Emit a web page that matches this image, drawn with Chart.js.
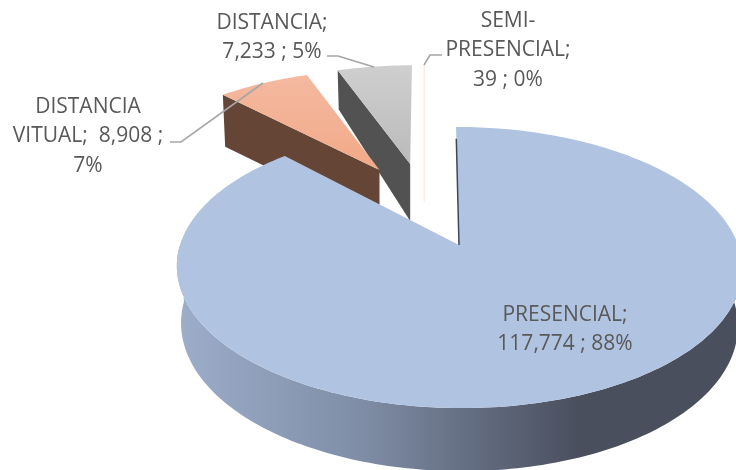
<!DOCTYPE html>
<html>
<head>
<meta charset="utf-8">
<script src="https://cdn.jsdelivr.net/npm/chart.js@4/dist/chart.umd.js"></script>
<style>
  html, body { margin: 0; padding: 0; background: #fff; overflow: hidden; }
  #wrap { width: 736px; height: 470px; }
</style>
</head>
<body>
<div id="wrap"><canvas id="chart" width="736" height="470"></canvas></div>
<script>
const categories = ['PRESENCIAL', 'DISTANCIA VITUAL', 'DISTANCIA', 'SEMI-PRESENCIAL']
const values = [117774, 8908, 7233, 39]
const topColors = ['#B0C4E2', '#F3AE8E', '#C6C6C6', '#F6F0DC']
const wallColors = ['#4A4F5E', '#654636', '#525252', '#F9F6EC']

// label text, one list per slice, broken the same way as the picture
const presencialLines = ['PRESENCIAL;', '117,774 ; 88%']
const vitualLines = ['DISTANCIA', 'VITUAL;  8,908 ;', '7%']
const distanciaLines = ['DISTANCIA;', '7,233 ; 5%']
const semiLines = ['SEMI-', 'PRESENCIAL;', '39 ; 0%']

// tilted view of the pie, fitted to the picture
const view = { x: 459, y: 245, fx: 279, fy: 137, persp: 0.16 }
const depthBase = [56, 52, 57, 38]
const depthSlope = [7, 0, 19, 0]
const leans = [3, 7, 3.5, 3]
const nudgeX = [0, -5, -4, -4.5]
const nudgeY = [0, -2, -3, -3]

function project(X, Y) {
  const w = 1 - view.persp * Y
  return [view.x + view.fx * X / w, view.y + view.fy * Y / w]
}

function slicePoints(el, i, origin) {
  const R = el.outerRadius
  const e = el.options.offset / R
  const mid = (el.startAngle + el.endAngle) / 2
  const ox = e * Math.cos(mid) + origin[0]
  const oy = e * Math.sin(mid) + origin[1]
  const vertex = project(ox, oy)
  vertex[0] += nudgeX[i]

  const at = (r, a) => {
    const lx = r * Math.cos(a), ly = r * Math.sin(a)
    const p = project(lx + ox, ly + oy)
    p[0] += leans[i] * ly + nudgeX[i]
    p[1] += nudgeY[i]
    const d = depthBase[i] + depthSlope[i] * ly
    const b = [vertex[0] + (p[0] - vertex[0]) * 0.985, p[1] + d]
    return { top: p, bottom: b, ly: ly }
  }

  const rim = []
  const steps = Math.max(2, Math.ceil((el.endAngle - el.startAngle) / 0.02))
  for (let k = 0; k <= steps; k++) {
    rim.push(at(1, el.startAngle + (el.endAngle - el.startAngle) * k / steps))
  }
  return { center: at(0, mid), rim: rim }
}

function fillPath(ctx, pts, fill) {
  ctx.beginPath()
  pts.forEach((p, n) => n ? ctx.lineTo(p[0], p[1]) : ctx.moveTo(p[0], p[1]))
  ctx.closePath()
  ctx.fillStyle = fill
  ctx.fill()
}

function wallFill(ctx, i) {
  if (i !== 0) return wallColors[i]
  const g = ctx.createLinearGradient(176, 0, 736, 0)
  g.addColorStop(0, '#9DAECB')
  g.addColorStop(0.33, '#7F8DA6')
  g.addColorStop(0.6, '#5A6274')
  g.addColorStop(0.72, wallColors[0])
  g.addColorStop(1, wallColors[0])
  return g
}

function topFill(ctx, i) {
  if (i === 1) {
    const g = ctx.createLinearGradient(0, 75, 0, 170)
    g.addColorStop(0, '#F4B9A0')
    g.addColorStop(1, '#F2A988')
    return g
  }
  if (i === 2) {
    const g = ctx.createLinearGradient(0, 65, 0, 165)
    g.addColorStop(0, '#CFCFCF')
    g.addColorStop(1, '#BABABA')
    return g
  }
  return topColors[i]
}

const pie3d = {
  id: 'pie3d',
  beforeDatasetsDraw(chart) {
    const ctx = chart.ctx
    const arcs = chart.getDatasetMeta(0).data
    // the big slice keeps the picture's vertex, the rest explode away from it
    const first = arcs[0]
    const firstMid = (first.startAngle + first.endAngle) / 2
    const firstE = first.options.offset / first.outerRadius
    const origin = [-firstE * Math.cos(firstMid), -firstE * Math.sin(firstMid)]

    for (let i = arcs.length - 1; i >= 0; i--) {
      const s = slicePoints(arcs[i], i, origin)
      const c = s.center
      const rim = s.rim
      const fill = wallFill(ctx, i)

      // only the faces turned to the viewer, so no wall shows through the rim
      if (i === 0) {
        const front = rim.filter(p => p.ly >= 0)
        fillPath(ctx, front.map(p => p.top).concat(front.map(p => p.bottom).reverse()), fill)
      } else {
        fillPath(ctx, [c.top, rim[0].top, rim[0].bottom, c.bottom], fill)
      }
      fillPath(ctx, [c.top].concat(rim.map(p => p.top)), topFill(ctx, i))

      if (i === 3) {
        // too thin to fill, show it as a hairline
        ctx.strokeStyle = topColors[3]
        ctx.lineWidth = 1.5
        ctx.beginPath()
        ctx.moveTo(rim[0].top[0], rim[0].top[1])
        ctx.lineTo(rim[0].top[0], c.bottom[1])
        ctx.stroke()
      }
      if (i === 0) {
        ctx.strokeStyle = '#3F4657'
        ctx.lineWidth = 1.5
        ctx.beginPath()
        ctx.moveTo(c.top[0], c.top[1])
        ctx.lineTo(c.top[0] + (rim[0].top[0] - c.top[0]) * 0.9, c.top[1] + (rim[0].top[1] - c.top[1]) * 0.9)
        ctx.stroke()
      }
    }
    return false
  }
}

const labelSpots = [
  { lines: presencialLines, x: 565, y: 315 },
  { lines: vitualLines, x: 88, y: 107 },
  { lines: distanciaLines, x: 272, y: 23 },
  { lines: semiLines, x: 508, y: 21 }
]
const leaders = [
  [[170, 142], [181, 142], [263, 83]],
  [[327, 56], [338, 56], [374, 67]],
  [[442, 55], [430, 55], [424, 65]]
]

const labelPlugin = {
  id: 'labelPlugin',
  afterDraw(chart) {
    const ctx = chart.ctx
    ctx.save()
    ctx.strokeStyle = '#A6A6A6'
    ctx.lineWidth = 1.6
    leaders.forEach(l => {
      ctx.beginPath()
      l.forEach((p, n) => n ? ctx.lineTo(p[0], p[1]) : ctx.moveTo(p[0], p[1]))
      ctx.stroke()
    })
    ctx.fillStyle = '#595959'
    ctx.font = '21px "Open Sans"'
    ctx.textAlign = 'center'
    ctx.textBaseline = 'middle'
    labelSpots.forEach(spot => {
      spot.lines.forEach((t, n) => ctx.fillText(t, spot.x, spot.y + n * 29.3))
    })
    ctx.restore()
  }
}

new Chart(document.getElementById('chart'), {
  type: 'pie',
  data: {
    labels: categories,
    datasets: [{
      data: values,
      backgroundColor: topColors,
      borderWidth: 0,
      offset: 66
    }]
  },
  options: {
    responsive: false,
    animation: false,
    plugins: { legend: { display: false }, tooltip: { enabled: false } }
  },
  plugins: [pie3d, labelPlugin]
})
</script>
</body>
</html>
